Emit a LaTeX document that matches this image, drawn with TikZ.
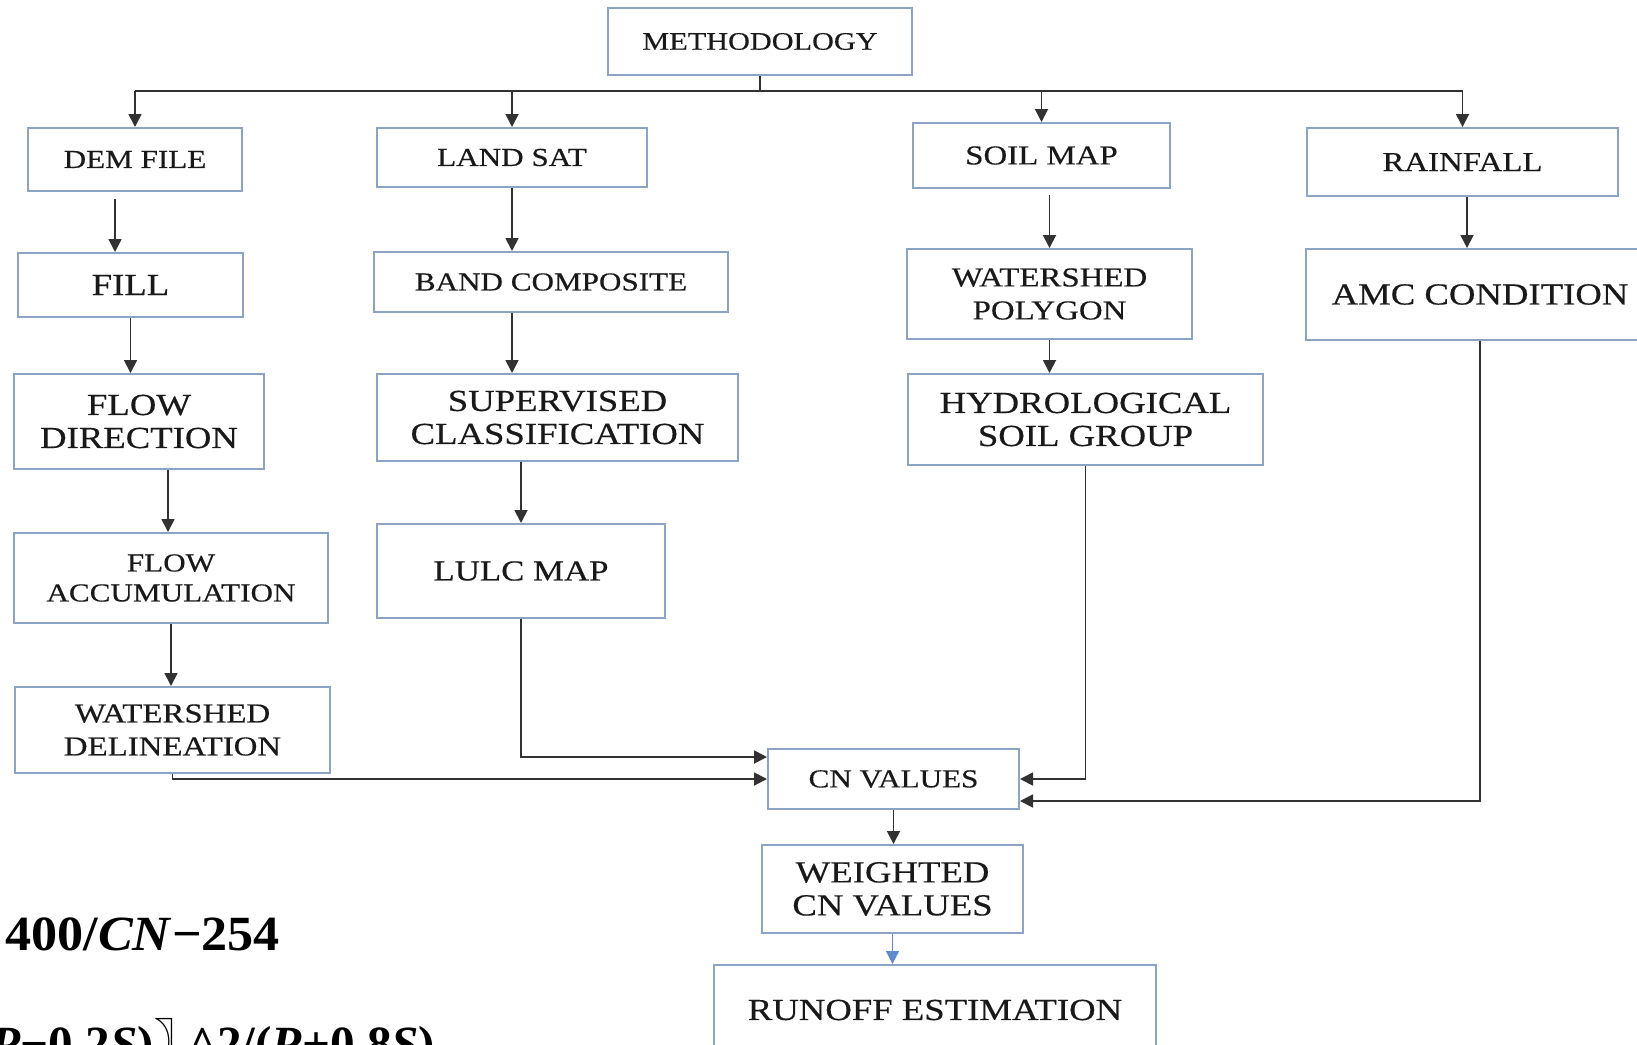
\documentclass[tikz,border=0pt]{standalone}
\usepackage{fontspec}
\setmainfont{Liberation Serif}
\newfontfamily\boxfont{Liberation Serif}[FakeStretch=1.2,FakeBold=0.4]
\newfontfamily\fmlfont{Liberation Serif}[FakeStretch=1.06]
\newfontfamily\cjkfont{Noto Sans CJK SC}
\usetikzlibrary{arrows.meta,calc}
\definecolor{bordc}{RGB}{140,163,195}
\definecolor{linec}{RGB}{50,50,50}
\definecolor{bluec}{RGB}{95,140,205}
\begin{document}
\begin{tikzpicture}[x=0.5pt,y=-0.5pt,
  box/.style={draw=bordc,line width=1pt,fill=white,inner sep=0pt,align=center,text=black!90},
  arr/.style={draw=linec,line width=0.9pt,-{Triangle[width=6.5pt,length=6.5pt]}},
  ln/.style={draw=linec,line width=0.9pt},
  fm/.style={font=\boxfont\fontsize{12.6}{14}\selectfont},
  fq/.style={font=\boxfont\fontsize{12.97}{15}\selectfont},
  fr/.style={font=\boxfont\fontsize{13.7}{16.5}\selectfont},
  fs/.style={font=\boxfont\fontsize{14.5}{16.5}\selectfont},
  ft/.style={font=\boxfont\fontsize{15.3}{16.5}\selectfont},
  fml/.style={anchor=base west,inner sep=0pt,font=\fmlfont\bfseries\fontsize{24.6}{29}\selectfont},
  fmlb/.style={anchor=base west,inner sep=0pt,font=\bfseries\fontsize{24.6}{29}\selectfont}
]
\useasboundingbox (0,0) rectangle (1637,1044);
\fill[white] (0,0) rectangle (1637,1044);

% boxes
\node[box,fm,minimum width=152pt,minimum height=33.5pt] (meth) at (760,41.5) {METHODOLOGY};
\node[box,fq,minimum width=107pt,minimum height=31.5pt] (dem) at (135,159.5) {DEM FILE};
\node[box,fq,minimum width=135pt,minimum height=29.5pt] (land) at (512,157.5) {LAND SAT};
\node[box,fr,minimum width=128.5pt,minimum height=32.5pt] (soil) at (1041.5,155.5) {SOIL MAP};
\node[box,fr,minimum width=155.5pt,minimum height=34pt] (rain) at (1462.5,162) {RAINFALL};
\node[box,ft,minimum width=112.5pt,minimum height=32pt] (fill) at (130.5,285) {FILL};
\node[box,ft,minimum width=125pt,minimum height=47.5pt] (flowdir) at (139,421.5) {FLOW\\DIRECTION};
\node[box,fq,minimum width=157pt,minimum height=45pt] (flowacc) at (171,578) {FLOW\\ACCUMULATION};
\node[box,fr,minimum width=157.5pt,minimum height=43pt] (wd) at (172.5,730) {WATERSHED\\DELINEATION};
\node[box,fq,minimum width=177pt,minimum height=30pt] (band) at (551,282) {BAND COMPOSITE};
\node[box,ft,minimum width=180.5pt,minimum height=43.5pt] (sup) at (557.5,417.5) {SUPERVISED\\CLASSIFICATION};
\node[box,fs,minimum width=144pt,minimum height=47pt] (lulc) at (521,571) {LULC MAP};
\node[box,fr,minimum width=142.5pt,minimum height=45pt] (wp) at (1049.5,294) {WATERSHED\\POLYGON};
\node[box,ft,minimum width=177.5pt,minimum height=45.5pt] (hsg) at (1085.5,419.5) {HYDROLOGICAL\\SOIL GROUP};
\node[box,ft,minimum width=174pt,minimum height=45.5pt] (amc) at (1480,294.5) {AMC CONDITION};
\node[box,fq,minimum width=125.5pt,minimum height=30pt] (cn) at (893.5,779) {CN VALUES};
\node[box,ft,minimum width=130.5pt,minimum height=44pt] (wcn) at (892.5,889) {WEIGHTED\\CN VALUES};
\node[box,ft,minimum width=221pt,minimum height=45pt] (run) at (935,1010) {RUNOFF ESTIMATION};

% top bus
\coordinate (bus) at (760,91);
\draw[ln] (meth.south) -- (meth.south |- bus);
\draw[ln] (bus -| dem.north) -- (bus -| rain.north);
\foreach \n in {dem,land,soil,rain} \draw[arr] (bus -| \n.north) -- (\n.north);

% column arrows
\coordinate (d1) at ($(dem.south)+(-20,7)$);
\draw[arr] (d1) -- (d1 |- fill.north);
\draw[arr] (fill.south) -- (fill.south |- flowdir.north);
\coordinate (d2) at ($(flowdir.south)+(29,0)$);
\draw[arr] (d2) -- (d2 |- flowacc.north);
\draw[arr] (flowacc.south) -- (flowacc.south |- wd.north);
\draw[arr] (land.south) -- (land.south |- band.north);
\coordinate (d3) at ($(band.south)+(-39,0)$);
\draw[arr] (d3) -- (d3 |- sup.north);
\draw[arr] (lulc.north |- sup.south) -- (lulc.north);
\coordinate (d4) at ($(soil.south)+(8,6)$);
\draw[arr] (d4) -- (d4 |- wp.north);
\draw[arr] (wp.south) -- (wp.south |- hsg.north);
\coordinate (d5) at ($(rain.south)+(4.5,0)$);
\draw[arr] (d5) -- (d5 |- amc.north);
\draw[arr] (cn.south) -- (cn.south |- wcn.north);
\draw[arr,draw=bluec,line width=0.6pt] (wcn.south) -- (wcn.south |- run.north);

% inputs to CN VALUES
\coordinate (c1) at ($(cn.west)+(0,-22)$);
\draw[arr] (lulc.south) |- (c1);
\draw[arr] (wd.south) |- (cn.west);
\draw[arr] (hsg.south) |- (cn.east);
\coordinate (c2) at ($(cn.east)+(0,22)$);
\draw[arr] (amc.south) |- (c2);

% formulas
\node[fml] (f1) at (5,950) {400/\textit{CN}−254};
\node[fmlb] (f2) at (-10,1060) {\textit{P}−0.2\textit{S}){\cjkfont 〗}\kern-0.3em\textasciicircum 2/(\textit{P}+0.8\textit{S})};
\end{tikzpicture}
\end{document}
